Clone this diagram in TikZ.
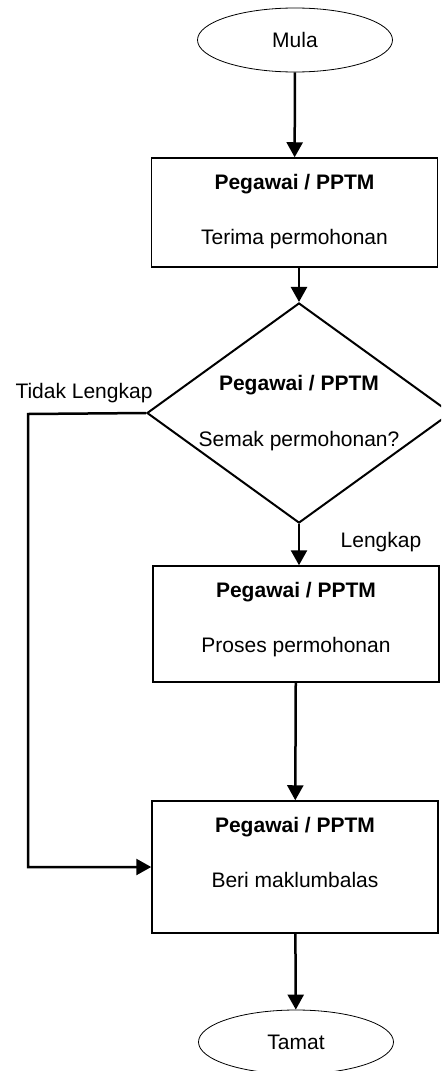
\documentclass[tikz,border=0pt]{standalone}
\usepackage{fontspec}
\setmainfont{Liberation Sans}
\usetikzlibrary{shapes.geometric,arrows.meta}

\tikzset{
	hujung/.style={ellipse, draw, line width=0.4pt, inner sep=0pt, minimum width=97.5pt, minimum height=32pt},
	kotak/.style={draw, line width=0.75pt, inner sep=0pt, minimum width=143pt, align=center, text height=43.35pt},
	keputusan/.style={diamond, draw, line width=1pt, inner sep=0pt, aspect=1.382, minimum width=152pt, minimum height=110pt, align=center},
	alir/.style={-{Triangle[length=7.5pt,width=8pt]}, line width=1.25pt},
}

\begin{document}
\begin{tikzpicture}[x=0.5pt,y=-0.5pt,font=\fontsize{10.5}{12.6}\selectfont]
		\path[clip] (0,0) rectangle (441,1071);
		\node[hujung] (mula) at (295,40) {Mula};
		\node[kotak, text depth=11.15pt] (terima) at (294.5,212.5) {\textbf{Pegawai / PPTM}\\[15pt]Terima permohonan};
		\node[keputusan] (semak) at (299,413) {\textbf{Pegawai / PPTM}\\[15pt]Semak permohonan?};
		\node[kotak, text depth=14.65pt] (proses) at (296,624) {\textbf{Pegawai / PPTM}\\[15pt]Proses permohonan};
		\node[kotak, text depth=22.65pt] (beri) at (295,867) {\textbf{Pegawai / PPTM}\\[15pt]Beri maklumbalas};
		\node[hujung] (tamat) at (296,1042) {Tamat};
		\node (tidak) at (84,393) {Tidak Lengkap};
		\node (lengkap) at (381,542) {Lengkap};
		\coordinate (kiri) at (28,414);
		
		\draw[alir] (mula) -- (terima);
		\draw[alir] (semak.north |- terima.south) -- (semak.north);
		\draw[alir] (semak.south) -- (semak.south |- proses.north);
		\draw[alir] (proses) -- (beri);
		\draw[alir] (beri) -- (tamat);
		\draw[alir] (semak.west) -- (kiri) |- (beri.west);
	\end{tikzpicture}
\end{document}
